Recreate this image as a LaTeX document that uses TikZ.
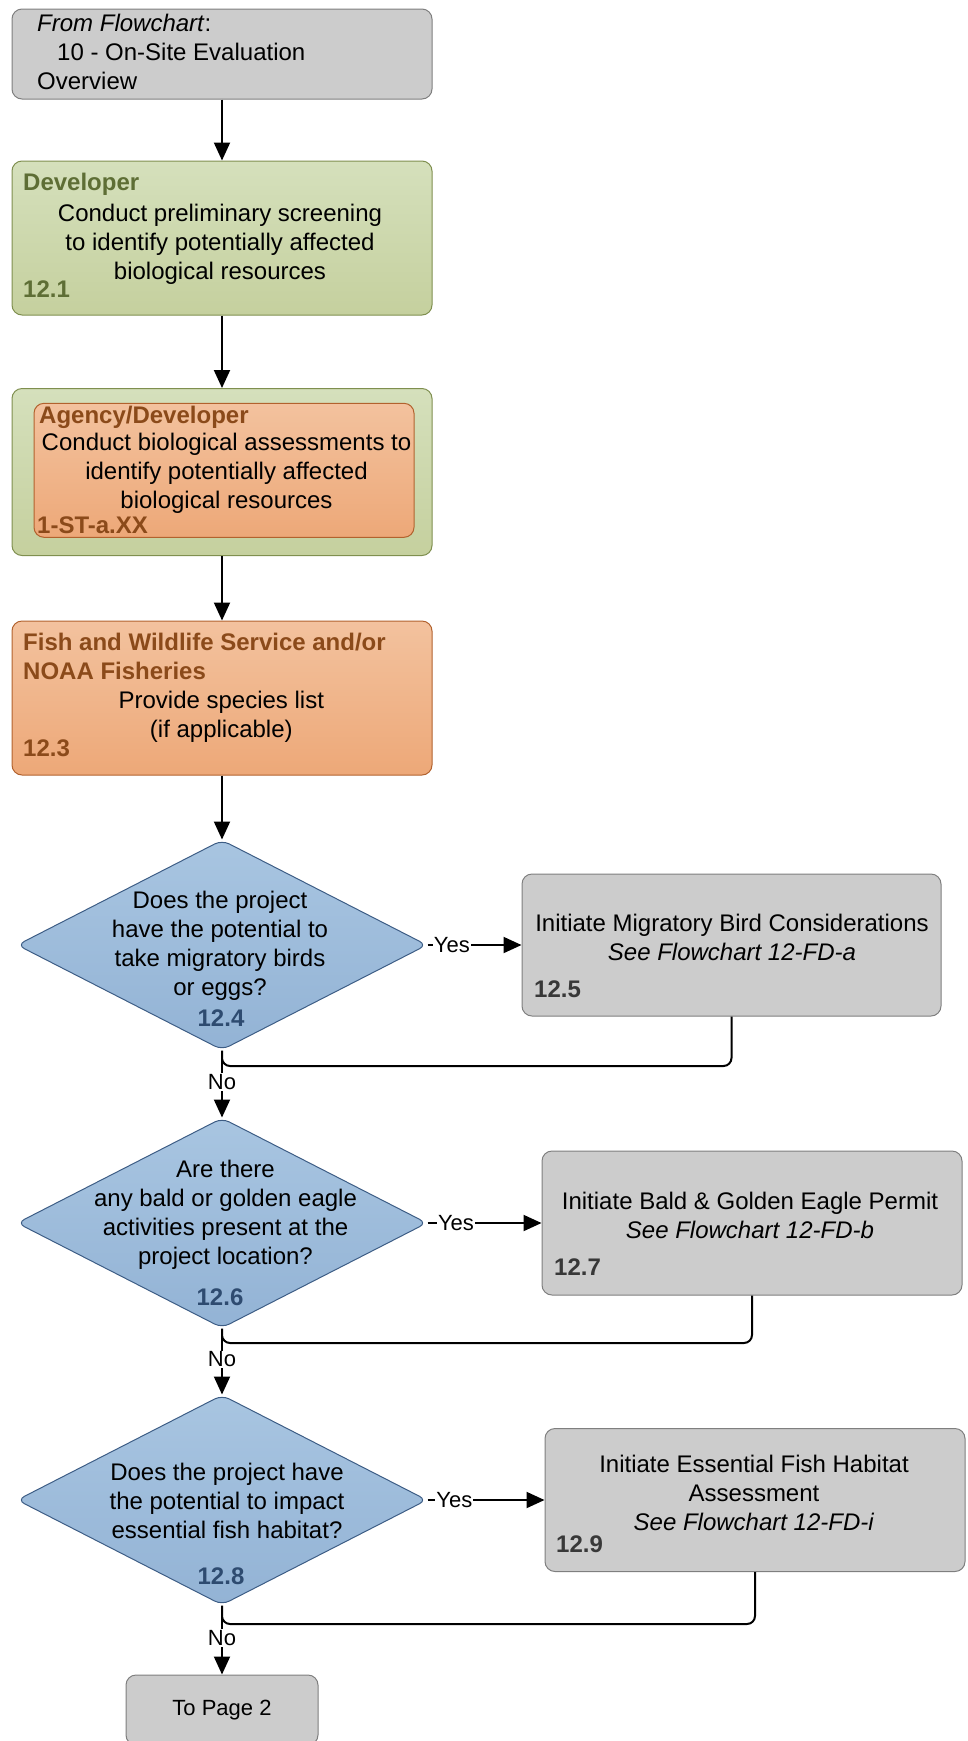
\documentclass[tikz,border=0pt]{standalone}
\usepackage{fontspec}
\setmainfont{Liberation Sans}
\usetikzlibrary{
    arrows.meta,
    shapes.geometric,
    positioning
}

\definecolor{boxgray}{HTML}{CCCCCC}
\definecolor{linegray}{HTML}{7F7F7F}
\definecolor{greentop}{HTML}{D5E0BC}
\definecolor{greenbot}{HTML}{C5D09E}
\definecolor{greenline}{HTML}{7F8F4F}
\definecolor{greentext}{HTML}{5E6E35}
\definecolor{orangetop}{HTML}{F3C29E}
\definecolor{orangebot}{HTML}{EDA878}
\definecolor{orangeline}{HTML}{B2622E}
\definecolor{browntext}{HTML}{8B4A1A}
\definecolor{bluetop}{HTML}{A8C5E1}
\definecolor{bluebot}{HTML}{93B3D5}
\definecolor{blueline}{HTML}{3D5D85}
\definecolor{bluetext}{HTML}{2E4B70}
\definecolor{numgray}{HTML}{383838}

\tikzset{
    box/.style={rectangle, rounded corners=10pt, line width=1pt, inner sep=0pt},
    graybox/.style={box, draw=linegray, fill=boxgray},
    greenbox/.style={box, draw=greenline, top color=greentop, bottom color=greenbot},
    orangebox/.style={box, draw=orangeline, top color=orangetop, bottom color=orangebot},
    decision/.style={diamond, rounded corners=8pt, line width=1pt, inner sep=0pt,
        draw=blueline, top color=bluetop, bottom color=bluebot,
        minimum width=410pt, minimum height=210pt},
    txt/.style={font=\fontsize{24}{29}\selectfont, align=center, inner sep=0pt, yshift=-2.5pt},
    head/.style={txt, font=\fontsize{24}{29}\selectfont\bfseries, align=left, anchor=west},
    num/.style={font=\fontsize{24}{29}\selectfont\bfseries, inner sep=0pt, anchor=west},
    qno/.style={num, anchor=center, text=bluetext},
    flow/.style={-{Triangle[length=18pt,width=16pt]}, line width=2pt},
    back/.style={line width=2pt, rounded corners=8pt},
    answer/.style={fill=white, inner sep=1pt, font=\fontsize{22}{26}\selectfont}
}

\begin{document}
\begin{tikzpicture}[x=1pt, y=-1pt]
    \useasboundingbox (0, 0) rectangle (968, 1741);

    \node[graybox, minimum width=420pt, minimum height=90pt] (from) at (222, 54) {};
    \node[txt, align=left, anchor=west] (fromtxt) at (37, 49)
        {\textit{From Flowchart}:\\\hspace*{20pt}10 - On-Site Evaluation\\Overview};

    \node[greenbox, minimum width=420pt, minimum height=154pt] (dev) at (222, 238) {};
    \node[head, text=greentext] (devwho) at (23, 181.7) {Developer};
    \node[txt] (devtxt) at (220, 241.6)
        {Conduct preliminary screening\\to identify potentially affected\\biological resources};
    \node[num, text=greentext] (devno) at (23, 289.3) {12.1};

    \node[greenbox, minimum width=420pt, minimum height=167pt] (bio) at (222, 472) {};
    \node[orangebox, minimum width=380pt, minimum height=134pt] (bioin) at (224, 470.3) {};
    \node[head, text=browntext] (biowho) at (39, 415) {Agency/Developer};
    \node[txt] (biotxt) at (226.5, 471)
        {Conduct biological assessments to\\identify potentially affected\\biological resources};
    \node[num, text=browntext] (biono) at (37, 525.7) {1-ST-a.XX};

    \node[orangebox, minimum width=420pt, minimum height=154pt] (fws) at (222, 698) {};
    \node[head, text=browntext] (fwswho) at (23, 653.8)
        {Fish and Wildlife Service and/or\\NOAA Fisheries};
    \node[txt] (fwstxt) at (221.3, 714.2) {Provide species list\\(if applicable)};
    \node[num, text=browntext] (fwsno) at (23, 748.3) {12.3};

    \node[decision] (q1) at (222, 945) {};
    \node[txt] (q1txt) at (220, 942.8)
        {Does the project\\have the potential to\\take migratory birds\\or eggs?};
    \node[qno] (q1no) at (221, 1018) {12.4};

    \node[graybox, minimum width=419pt, minimum height=142pt] (mb) at (731.5, 945) {};
    \node[txt] (mbtxt) at (732, 934.5)
        {Initiate Migratory Bird Considerations\\\textit{See Flowchart 12-FD-a}};
    \node[num, text=numgray] (mbno) at (534, 989.3) {12.5};

    \node[decision] (q2) at (222, 1223) {};
    \node[txt] (q2txt) at (225.5, 1212)
        {Are there\\any bald or golden eagle\\activities present at the\\project location?};
    \node[qno] (q2no) at (220, 1297) {12.6};

    \node[graybox, minimum width=420pt, minimum height=144pt] (eagle) at (752, 1223) {};
    \node[txt] (eagletxt) at (750, 1213)
        {Initiate Bald \& Golden Eagle Permit\\\textit{See Flowchart 12-FD-b}};
    \node[num, text=numgray] (eagleno) at (554, 1266.7) {12.7};

    \node[decision] (q3) at (222, 1500) {};
    \node[txt] (q3txt) at (227, 1498.3)
        {Does the project have\\the potential to impact\\essential fish habitat?};
    \node[qno] (q3no) at (221, 1576) {12.8};

    \node[graybox, minimum width=420pt, minimum height=143pt] (efh) at (755, 1500) {};
    \node[txt] (efhtxt) at (754, 1490.7)
        {Initiate Essential Fish Habitat\\Assessment\\\textit{See Flowchart 12-FD-i}};
    \node[num, text=numgray] (efhno) at (556, 1544) {12.9};

    \node[graybox, minimum width=192pt, minimum height=70pt,
        font=\fontsize{22}{26}\selectfont] (page2) at (222, 1710) {To Page 2};

    \coordinate (j1) at (222, 1066);
    \coordinate (j2) at (222, 1343);
    \coordinate (j3) at (222, 1624);

    \draw
    (from) edge[flow] (dev)
    (dev) edge[flow] (bio)
    (bio) edge[flow] (fws)
    (fws) edge[flow] (q1)
    (q1.east) edge[flow] node[answer, pos=0.26] {Yes} (mb.west)
    (q1.south) edge[flow] node[answer, pos=0.47] {No} (q2.north)
    (q2.east) edge[flow] node[answer, pos=0.25] {Yes} (eagle.west)
    (q2.south) edge[flow] node[answer, pos=0.47] {No} (q3.north)
    (q3.east) edge[flow] node[answer, pos=0.23] {Yes} (efh.west)
    (q3.south) edge[flow] node[answer, pos=0.47] {No} (page2.north);

    \draw[back] (mb.south) |- (j1) -- (q1.south);
    \draw[back] (eagle.south) |- (j2) -- (q2.south);
    \draw[back] (efh.south) |- (j3) -- (q3.south);
\end{tikzpicture}
\end{document}
